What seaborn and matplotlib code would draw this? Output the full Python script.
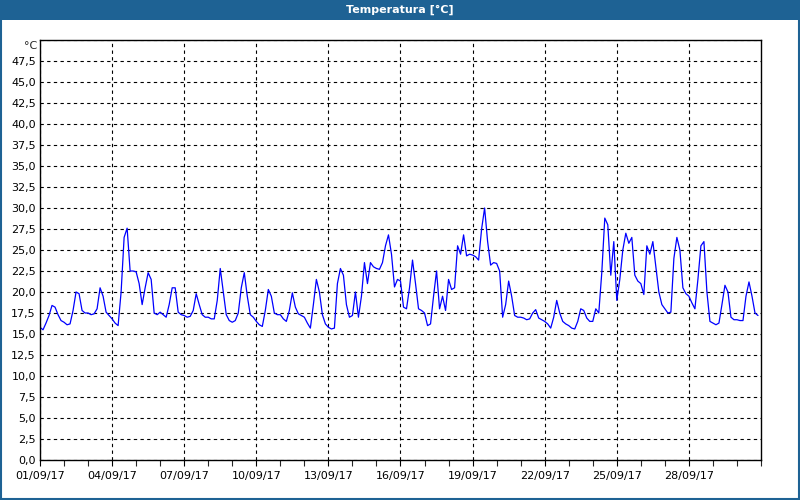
### Temperature chart for September 2017, one value every 3 hours

import pandas as pd
import seaborn as sns
import matplotlib.pyplot as plt
import matplotlib.dates as mdates
from matplotlib.patches import Rectangle

# 1. The data (8 readings per day: 00,03,...,21h)
day_1 = [15.8, 15.5, 16.3, 17.2, 18.4, 18.2, 17.3, 16.6]
day_2 = [16.4, 16.1, 16.2, 17.8, 20.0, 19.8, 17.8, 17.5]
day_3 = [17.5, 17.3, 17.4, 18.0, 20.5, 19.5, 17.6, 17.2]
day_4 = [16.8, 16.3, 16.0, 20.0, 26.5, 27.6, 22.5, 22.5]
day_5 = [22.4, 21.0, 18.5, 20.5, 22.3, 21.5, 17.5, 17.3]
day_6 = [17.6, 17.3, 17.0, 18.5, 20.5, 20.5, 17.6, 17.3]
day_7 = [17.2, 17.0, 17.1, 17.8, 19.8, 18.5, 17.3, 17.0]
day_8 = [17.0, 16.8, 16.8, 19.0, 22.8, 20.0, 17.3, 16.6]
day_9 = [16.4, 16.6, 17.5, 20.5, 22.3, 19.5, 17.3, 17.0]
day_10 = [16.5, 16.1, 15.9, 17.8, 20.3, 19.5, 17.5, 17.3]
day_11 = [17.3, 16.8, 16.5, 17.8, 19.9, 18.2, 17.4, 17.2]
day_12 = [17.0, 16.3, 15.7, 18.5, 21.5, 20.0, 17.3, 16.2]
day_13 = [15.8, 15.6, 15.7, 21.0, 22.8, 22.0, 18.5, 17.0]
day_14 = [17.2, 20.0, 17.0, 19.5, 23.5, 21.0, 23.5, 23.0]
day_15 = [22.8, 22.7, 23.5, 25.5, 26.8, 24.5, 20.6, 21.5]
day_16 = [21.3, 18.2, 18.0, 20.5, 23.8, 21.0, 18.0, 17.8]
day_17 = [17.5, 16.0, 16.2, 19.5, 22.5, 18.0, 19.5, 17.8]
day_18 = [21.5, 20.3, 20.5, 25.5, 24.5, 26.8, 24.3, 24.5]
day_19 = [24.4, 24.2, 23.8, 27.5, 30.0, 26.0, 23.2, 23.5]
day_20 = [23.4, 22.5, 17.0, 18.5, 21.3, 19.5, 17.2, 17.0]
day_21 = [17.0, 16.9, 16.7, 16.8, 17.5, 17.9, 16.9, 16.7]
day_22 = [16.5, 16.2, 15.7, 17.0, 19.0, 17.5, 16.5, 16.2]
day_23 = [16.0, 15.7, 15.6, 16.5, 18.0, 17.8, 16.9, 16.5]
day_24 = [16.5, 18.0, 17.5, 22.3, 28.8, 28.0, 22.0, 26.0]
day_25 = [19.0, 21.5, 25.0, 27.0, 25.8, 26.5, 22.0, 21.3]
day_26 = [21.0, 19.7, 25.5, 24.5, 26.0, 23.0, 20.0, 18.5]
day_27 = [18.0, 17.5, 17.6, 24.0, 26.5, 25.0, 20.5, 19.8]
day_28 = [19.5, 18.7, 18.0, 21.5, 25.5, 26.0, 20.0, 16.5]
day_29 = [16.3, 16.1, 16.3, 18.5, 20.8, 20.0, 17.0, 16.7]
day_30 = [16.7, 16.6, 16.6, 19.5, 21.2, 19.5, 17.5, 17.2]

days = [day_1, day_2, day_3, day_4, day_5, day_6, day_7, day_8, day_9, day_10,
        day_11, day_12, day_13, day_14, day_15, day_16, day_17, day_18, day_19, day_20,
        day_21, day_22, day_23, day_24, day_25, day_26, day_27, day_28, day_29, day_30]

x_tick_labels = ['01/09/17', '04/09/17', '07/09/17', '10/09/17', '13/09/17',
                 '16/09/17', '19/09/17', '22/09/17', '25/09/17', '28/09/17']

# 2. We build the dataframe
values = [v for d in days for v in d]
df = pd.DataFrame({'date': pd.date_range('2017-09-01', periods=len(values), freq='3h'),
                   'temp': values})

# 3. The plot
sns.set_style('white')
plt.rcParams['font.family'] = ['DejaVu Sans']

fig = plt.figure(figsize=(8, 5), dpi=100)
fig.patch.set_facecolor('white')
ax = fig.add_axes([0.05, 0.08, 0.90125, 0.84])

sns.lineplot(data=df, x='date', y='temp', ax=ax, color='#0000ff', linewidth=0.9)

# axis limits
start = pd.Timestamp('2017-09-01')
ax.set_xlim(start, start + pd.Timedelta(days=30))
ax.set_ylim(0, 50)

# y ticks with comma decimal, the top one is left for the unit
y_ticks = [i * 2.5 for i in range(21)]
y_labels = [f'{t:.1f}'.replace('.', ',') for t in y_ticks]
y_labels[-1] = ''
ax.set_yticks(y_ticks)
ax.set_yticklabels(y_labels)
ax.text(-0.004, 0.998, '°C', transform=ax.transAxes, ha='right', va='top', fontsize=8)

# x ticks every 3 days, minor every day
ax.set_xticks(pd.date_range(start, periods=len(x_tick_labels), freq='3D'))
ax.set_xticklabels(x_tick_labels)
ax.xaxis.set_minor_locator(mdates.DayLocator())

ax.tick_params(axis='y', length=0, pad=3, labelsize=8, colors='black')
ax.tick_params(axis='x', which='major', length=4, width=0.8, pad=4, labelsize=8,
               direction='out', bottom=True, colors='black')
ax.tick_params(axis='x', which='minor', length=4, width=0.8, direction='out', bottom=True)

# dashed grid
ax.grid(True, which='major', color='black', linestyle=(0, (3, 3)), linewidth=0.8)
ax.set_axisbelow(True)

for s in ax.spines.values():
    s.set_color('black')
    s.set_linewidth(1)

ax.set_xlabel('')
ax.set_ylabel('')

# title bar and outer frame
fig.patches.append(Rectangle((0, 0.96), 1, 0.04, transform=fig.transFigure,
                             facecolor='#1e6294', edgecolor='none', zorder=0))
fig.patches.append(Rectangle((0.001, 0.002), 0.998, 0.996, transform=fig.transFigure,
                             facecolor='none', edgecolor='#1e6294', linewidth=1.5))
fig.text(0.5, 0.98, 'Temperatura [°C]', color='white', fontsize=8, fontweight='bold',
         ha='center', va='center')

fig.savefig('out.png', dpi=100)
